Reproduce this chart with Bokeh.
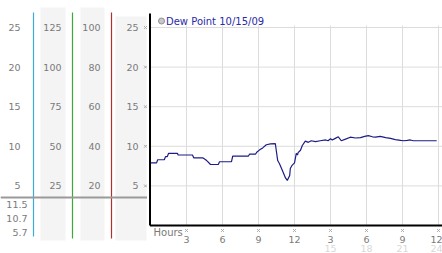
from bokeh.plotting import figure
from bokeh.layouts import row
from bokeh.models import Range1d
from bokeh.core.properties import value
from bokeh.embed import file_html
from bokeh.resources import INLINE

# ---------------- data ----------------
hours = [0.0, 0.5, 0.6, 1.15, 1.25, 1.4, 1.5, 2.25, 2.3, 3.5, 3.6, 4.35, 4.6, 4.75,
         5.0, 5.65, 5.75, 6.75, 6.85, 8.15, 8.25, 8.75, 8.85, 9.1, 9.35, 9.65, 10.0,
         10.4, 10.6, 10.75, 11.0, 11.25, 11.4, 11.6, 11.65, 11.8, 12.0, 12.15, 12.25,
         12.3, 12.5, 12.65, 12.9, 13.15, 13.4, 13.75, 14.15, 14.6, 14.8, 15.0, 15.15,
         15.4, 15.65, 15.9, 16.25, 16.65, 17.1, 17.5, 17.85, 18.15, 18.5, 18.75, 19.15,
         19.6, 20.0, 20.4, 20.85, 21.1, 21.4, 21.65, 21.9, 23.85]
dew_point = [7.9, 7.9, 8.3, 8.3, 8.7, 8.7, 9.1, 9.1, 8.9, 8.9, 8.55, 8.55, 8.3, 8.1,
             7.7, 7.7, 8.05, 8.05, 8.75, 8.75, 9.0, 9.0, 9.25, 9.55, 9.8, 10.2, 10.3,
             10.35, 8.2, 7.8, 6.9, 6.0, 5.7, 6.3, 7.2, 7.6, 7.9, 9.1, 8.9,
             9.2, 9.5, 10.1, 10.65, 10.5, 10.7, 10.6, 10.7, 10.8, 10.7, 10.95, 10.8,
             11.0, 11.2, 10.7, 10.9, 11.15, 11.05, 11.1, 11.25, 11.35, 11.2, 11.15, 11.25,
             11.1, 11.0, 10.85, 10.75, 10.7, 10.75, 10.8, 10.7, 10.7]

y_ticks = [5, 10, 15, 20, 25]
col1_labels = ["5", "10", "15", "20", "25"]
col2_labels = ["25", "50", "75", "100", "125"]
col3_labels = ["20", "40", "60", "80", "100"]
col4_labels = ["5", "10", "15", "20", "25"]
stats_labels = ["11.5", "10.7", "5.7"]

x_ticks = [3, 6, 9, 12, 15, 18, 21, 24]
x_tick_labels = ["3", "6", "9", "12", "3", "6", "9", "12"]
x_ticks_2 = [15, 18, 21, 24]
x_tick_labels_2 = ["15", "18", "21", "24"]

legend_label = "Dew Point 10/15/09"
axis_title = "Hours"

# ---------------- layout helpers ----------------
PX_PER_UNIT = 7.92          # vertical pixels per degree
Y0_PIX = 225                # pixel row of value 0
H = 253
def pv(pix):                # pixel row -> value
    return (Y0_PIX - pix) / PX_PER_UNIT

yr = Range1d(pv(H), pv(0))
FONT = value("DejaVu Sans")
GRAY = "#7a7a7a"
MARK = "#a8a8a8"

# ---------------- left panel ----------------
LW = 147
left = figure(width=LW, height=H, x_range=Range1d(0, LW), y_range=yr,
              output_backend="svg", toolbar_location=None, min_border=0)
left.axis.visible = False
left.grid.visible = False
left.outline_line_color = None

# shaded columns
left.quad(left=[40, 80, 115], right=[65, 104, 146],
          bottom=[pv(240)] * 3, top=[pv(7), pv(7), pv(16)],
          fill_color="#f4f4f4", line_color=None)
# coloured separators
left.segment(x0=[33, 72, 111], x1=[33, 72, 111],
             y0=[pv(236), pv(238), pv(238)], y1=[pv(12)] * 3,
             line_color=["#40aad6", "#3aaa3a", "#b03030"], line_width=1.2)
# gray separator line
left.segment(x0=[0], x1=[LW], y0=[pv(197)], y1=[pv(197)],
             line_color="#9a9a9a", line_width=2)

for xpos, labs in [(20, col1_labels), (61, col2_labels), (100, col3_labels), (138, col4_labels)]:
    left.text(x=[xpos] * len(y_ticks), y=y_ticks, text=labs, text_align="right",
              text_baseline="middle", text_font=FONT, text_font_size="9.5px",
              text_color=GRAY)
# tick marks for main y axis
left.scatter(x=[145] * len(y_ticks), y=y_ticks, marker="x", size=4,
             line_color=MARK, line_width=1)
# stats
left.text(x=[27] * 3, y=[pv(204), pv(218), pv(232)], text=stats_labels,
          text_align="right", text_baseline="middle", text_font=FONT,
          text_font_size="9.5px", text_color=GRAY)

# ---------------- main chart ----------------
RW = 442 - LW
def hx(pix):                # canvas pixel column -> hours
    return (pix - 150) / 12.0

main = figure(width=RW, height=H, x_range=Range1d(hx(LW), hx(442)), y_range=yr,
              output_backend="svg", toolbar_location=None, min_border=0)
main.axis.visible = False
main.grid.visible = False
main.outline_line_color = None

xmax = hx(442)
# grid
main.segment(x0=[0] * len(y_ticks), x1=[xmax] * len(y_ticks), y0=y_ticks, y1=y_ticks,
             line_color="#dcdcdc", line_width=1)
main.segment(x0=x_ticks, x1=x_ticks, y0=[0] * len(x_ticks), y1=[pv(25)] * len(x_ticks),
             line_color="#dcdcdc", line_width=1)

# series
main.line(hours, dew_point, line_color="#1c1c86", line_width=1.2)

# axes
ax = hx(149.5)
main.segment(x0=[ax], x1=[ax], y0=[0], y1=[pv(13)], line_color="black", line_width=2)
main.segment(x0=[ax], x1=[xmax], y0=[0], y1=[0], line_color="black", line_width=2)

# x tick marks and labels
main.scatter(x=x_ticks, y=[pv(230)] * len(x_ticks), marker="x", size=4,
             line_color=MARK, line_width=1)
offsets = [0] * (len(x_ticks) - 1) + [-2]
main.text(x=x_ticks, y=[pv(239)] * len(x_ticks), text=x_tick_labels,
          x_offset=offsets, text_align="center", text_baseline="middle",
          text_font=FONT, text_font_size="9.5px", text_color=GRAY)
main.text(x=x_ticks_2, y=[pv(247.5)] * len(x_ticks_2), text=x_tick_labels_2,
          x_offset=[0, 0, 0, -2], text_align="center", text_baseline="middle",
          text_font=FONT, text_font_size="9.5px", text_color="#d8d8d8")
main.text(x=[hx(153)], y=[pv(231.5)], text=[axis_title], text_align="left",
          text_baseline="middle", text_font=FONT, text_font_size="10px",
          text_color=GRAY)

# legend
main.scatter(x=[hx(161)], y=[pv(20.5)], marker="circle", size=6,
             fill_color="#c8c8c8", line_color="#909090", line_width=1)
main.text(x=[hx(165.5)], y=[pv(20.5)], text=[legend_label], text_align="left",
          text_baseline="middle", text_font=FONT, text_font_size="10px",
          text_color="#2a2aa8")

layout = row(left, main)
open("out.html", "w").write(file_html(layout, INLINE))
